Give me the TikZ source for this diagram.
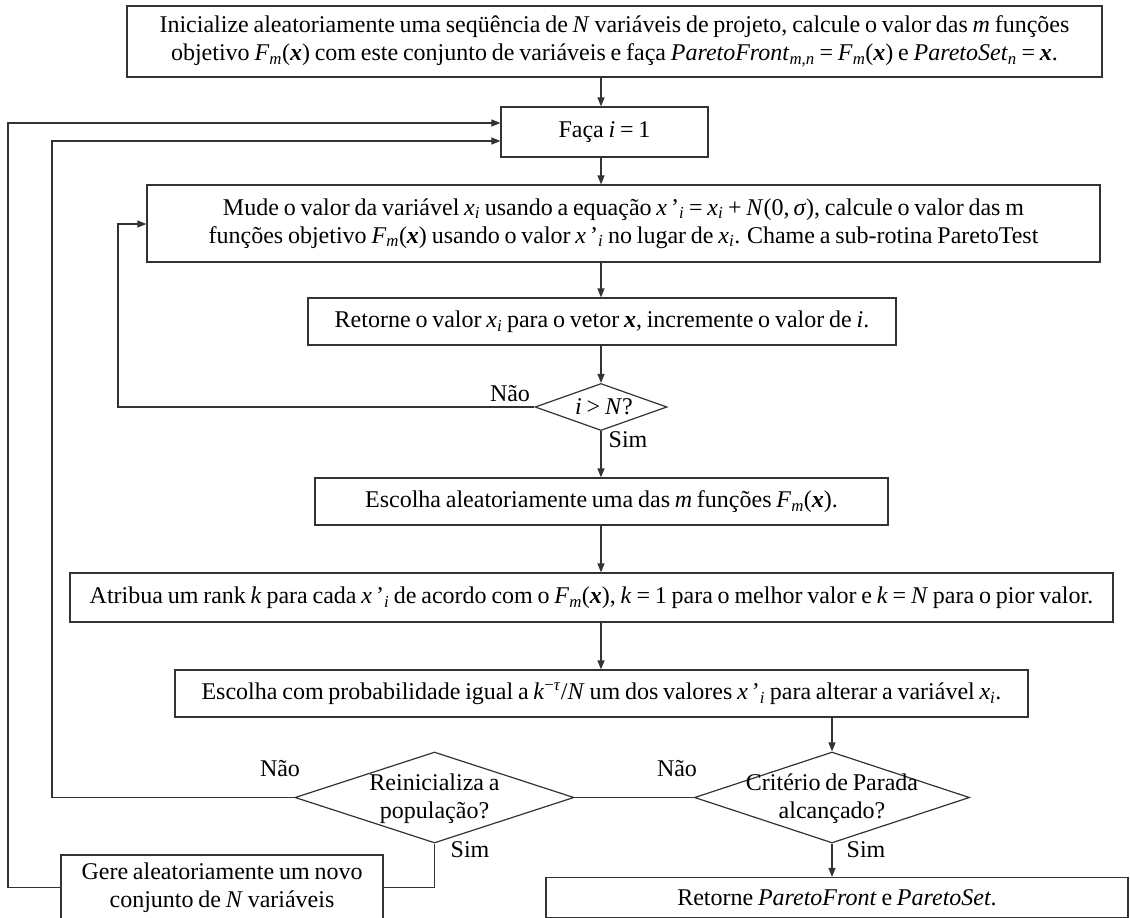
\documentclass[tikz,border=0pt]{standalone}
\usepackage{fontspec}
\setmainfont{Liberation Serif}[WordSpace=0.8]
\usetikzlibrary{arrows.meta,shapes.geometric}
\definecolor{lc}{HTML}{333333}
\newcommand{\vi}[1]{\textit{#1}}
\newcommand{\vb}{\textbf{\textit{x}}}
\newcommand{\sbi}[1]{\textsubscript{\textit{#1}}}
\newcommand{\Fm}{\vi{F}\sbi{m}(\vb)}
\newcommand{\xpi}{\vi{x}\,'\sbi{i}}
\begin{document}
\begin{tikzpicture}[x=1pt,y=-1pt,
  font=\fontsize{24}{28}\selectfont,
  box/.style={draw=lc, line width=1.2pt, inner sep=0pt, align=center},
  dia/.style={draw=lc, line width=1.2pt, diamond, inner sep=0pt},
  txt/.style={inner sep=0pt, align=center},
  arr/.style={draw=lc, line width=1.2pt, -{Triangle[length=9pt,width=7pt]}},
  ln/.style={draw=lc, line width=1.2pt}]
\useasboundingbox (0,0) rectangle (1130,918);
\fill[white] (0,0) rectangle (1130,918);

\node[box, minimum width=975pt, minimum height=71pt] (b1) at (614.5,41.5)
  {Inicialize aleatoriamente uma seqüência de \vi{N} variáveis de projeto, calcule o valor das \vi{m} funções\\
   objetivo \Fm{} com este conjunto de variáveis e faça \vi{ParetoFront}\sbi{m,n} = \Fm{} e \vi{ParetoSet}\sbi{n} = \vb.};
\node[box, minimum width=207pt, minimum height=50pt] (b2) at (604.5,132) {Faça \vi{i} = 1};
\node[box, minimum width=953pt, minimum height=77pt] (b3) at (623.5,223.5)
  {Mude o valor da variável \vi{x}\sbi{i} usando a equação \xpi{} = \vi{x}\sbi{i} + \vi{N}(0,\,\vi{σ}), calcule o valor das m\\
   funções objetivo \Fm{} usando o valor \xpi{} no lugar de \vi{x}\sbi{i}. Chame a sub-rotina ParetoTest};
\node[box, minimum width=588pt, minimum height=47pt] (b4) at (602,321.5)
  {Retorne o valor \vi{x}\sbi{i} para o vetor \vb, incremente o valor de \vi{i}.};
\node[dia, minimum width=132pt, minimum height=47pt] (d1) at (601,407) {};
\node[txt] (d1t) at (604,407) {\vi{i} > \vi{N}?};
\node[box, minimum width=573pt, minimum height=47pt] (b5) at (601.5,501.5)
  {Escolha aleatoriamente uma das \vi{m} funções \Fm.};
\node[box, minimum width=1043pt, minimum height=49pt] (b6) at (591.5,597.5)
  {Atribua um rank \vi{k} para cada \xpi{} de acordo com o \Fm, \vi{k} = 1 para o melhor valor e \vi{k} = \vi{N} para o pior valor.};
\node[box, minimum width=853pt, minimum height=47pt] (b7) at (601.5,693.5)
  {Escolha com probabilidade igual a \vi{k}\textsuperscript{−\vi{τ}}/\vi{N} um dos valores \xpi{} para alterar a variável \vi{x}\sbi{i}.};
\node[dia, minimum width=275pt, minimum height=91pt] (d3) at (832,797.5) {};
\node[txt] (d3t) at (832,799) {Critério de Parada\\alcançado?};
\node[dia, minimum width=279pt, minimum height=91pt] (d2) at (434.5,797.5) {};
\node[txt] (d2t) at (434.5,799) {Reinicializa a\\população?};
\node[box, minimum width=322pt, minimum height=65pt] (b8) at (222,887.5)
  {Gere aleatoriamente um novo\\conjunto de \vi{N} variáveis};
\node[box, minimum width=582pt, minimum height=40pt] (b9) at (837,897.5)
  {Retorne \vi{ParetoFront} e \vi{ParetoSet}.};

% labels
\node[txt] (l1) at (510,394) {Não};
\node[txt] (l2) at (628,440) {Sim};
\node[txt] (l3) at (280,769) {Não};
\node[txt] (l4) at (470,850) {Sim};
\node[txt] (l5) at (677,769) {Não};
\node[txt] (l6) at (866,850) {Sim};

% helper coordinates
\coordinate (xo) at (8,0);
\coordinate (xm) at (52,0);
\coordinate (xi) at (118,0);
\coordinate (yo) at (0,123);
\coordinate (ym) at (0,141);
\coordinate (yi) at (0,224);

% main flow
\draw[arr] (b1.south -| d1) -- (b2.north -| d1);
\draw[arr] (b2.south -| d1) -- (b3.north -| d1);
\draw[arr] (b3.south -| d1) -- (b4.north -| d1);
\draw[arr] (b4.south -| d1) -- (d1.north);
\draw[arr] (d1.south) -- (b5.north -| d1);
\draw[arr] (b5.south -| d1) -- (b6.north -| d1);
\draw[arr] (b6.south -| d1) -- (b7.north -| d1);
\draw[arr] (b7.south -| d3) -- (d3.north);
\draw[arr] (d3.south) -- (b9.north -| d3);
\draw[ln] (d3.west) -- (d2.east);
\draw[ln] (d2.south) |- (b8.east);

% feedback loops
\draw[arr] (d1.west) -| (xi |- yi) -- (b3.west |- yi);
\draw[arr] (d2.west) -| (xm |- ym) -- (b2.west |- ym);
\draw[arr] (b8.west) -| (xo |- yo) -- (b2.west |- yo);
\end{tikzpicture}
\end{document}
